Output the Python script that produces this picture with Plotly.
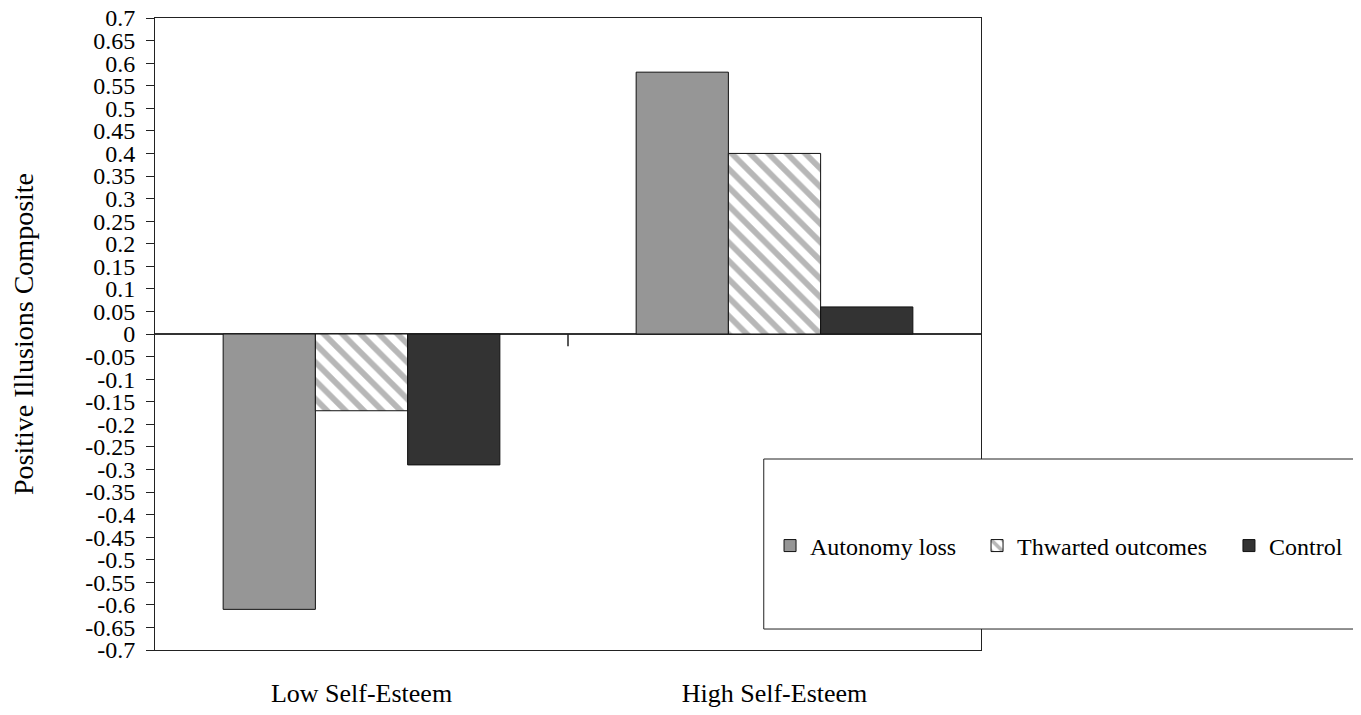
import plotly.graph_objects as go

categories = ["Low Self-Esteem", "High Self-Esteem"]
autonomy_loss = [-0.61, 0.58]
thwarted_outcomes = [-0.17, 0.40]
control = [-0.29, 0.06]

tick_vals = [round(0.7 - 0.05 * i, 2) for i in range(29)]
tick_text = ["0.7", "0.65", "0.6", "0.55", "0.5", "0.45", "0.4", "0.35", "0.3", "0.25",
             "0.2", "0.15", "0.1", "0.05", "0", "-0.05", "-0.1", "-0.15", "-0.2", "-0.25",
             "-0.3", "-0.35", "-0.4", "-0.45", "-0.5", "-0.55", "-0.6", "-0.65", "-0.7"]

FONT = "Liberation Serif"

fig = go.Figure()
fig.add_trace(go.Bar(name="Autonomy loss", x=categories, y=autonomy_loss, legend="legend",
                     marker=dict(color="#969696", line=dict(color="#111111", width=1))))
fig.add_trace(go.Bar(name="Thwarted outcomes", x=categories, y=thwarted_outcomes, legend="legend2",
                     marker=dict(color="white", line=dict(color="#111111", width=1),
                                 pattern=dict(shape="\\", fgcolor="#707070", bgcolor="white",
                                              size=13, solidity=0.45))))
fig.add_trace(go.Bar(name="Control", x=categories, y=control, legend="legend3",
                     marker=dict(color="#333333", line=dict(color="#111111", width=1))))

legend_common = dict(orientation="h", xanchor="left", y=0.1646, yanchor="middle",
                     bgcolor="rgba(0,0,0,0)", borderwidth=0, font=dict(family=FONT, size=24),
                     itemclick=False)

# page body adds an 8px offset; plot area spans x 155..981, y 18..650 in the window
fig.update_layout(
    width=1353, height=707,
    margin=dict(l=147, r=380, t=10, b=65),
    paper_bgcolor="white", plot_bgcolor="white",
    barmode="group", bargap=0.33, bargroupgap=0,
    font=dict(family=FONT, size=25, color="black"),
    showlegend=True,
    legend=dict(x=0.7446, **legend_common),
    legend2=dict(x=0.9952, **legend_common),
    legend3=dict(x=1.3002, **legend_common),
)

fig.update_xaxes(
    showline=True, linecolor="#222222", linewidth=1, mirror=True,
    ticks="", showgrid=False, zeroline=False, automargin=False,
    tickfont=dict(family=FONT, size=26), ticklabelstandoff=20,
)
fig.update_yaxes(
    range=[-0.7, 0.7], tickmode="array", tickvals=tick_vals, ticktext=tick_text,
    showline=True, linecolor="#222222", linewidth=1, mirror=True, automargin=False,
    ticks="outside", ticklen=8, tickcolor="#222222", tickwidth=1,
    showgrid=False, zeroline=True, zerolinecolor="#333333", zerolinewidth=2,
    tickfont=dict(family=FONT, size=24), ticklabelstandoff=6, ticklabeloverflow="allow",
    title=dict(text="Positive Illusions Composite", font=dict(family=FONT, size=28), standoff=44),
)

# small category divider tick on the zero line
fig.add_shape(type="line", xref="x", yref="y", x0=0.5, x1=0.5, y0=0, y1=-0.027,
              line=dict(color="#222222", width=1.5))
# legend frame
fig.add_shape(type="rect", xref="paper", yref="paper", x0=0.737, x1=1.4516, y0=0.0332, y1=0.3022,
              line=dict(color="#222222", width=1), fillcolor="white", layer="above")

fig.write_html("out.html")
